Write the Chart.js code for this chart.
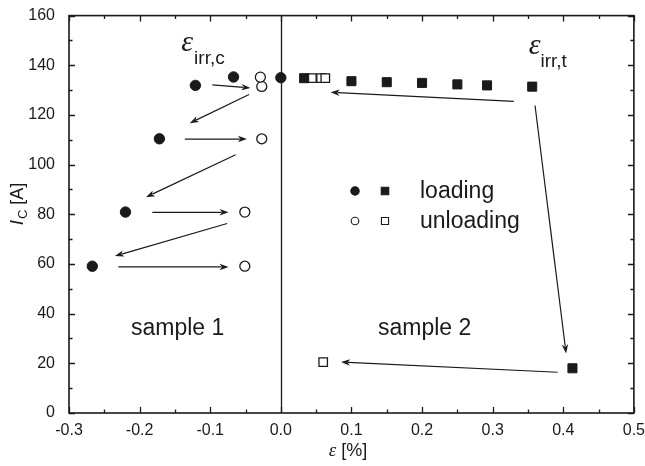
<!DOCTYPE html>
<html><head><meta charset="utf-8">
<script src="https://cdn.jsdelivr.net/npm/chart.js@4/dist/chart.umd.min.js"></script>
<style>html,body{margin:0;padding:0;background:#fff}#wrap{width:645px;height:466px;position:relative}</style>
</head><body><div id="wrap"><canvas id="c"></canvas></div>
<script>
// ---- data ----
const s1LoadX = [-0.267, -0.22, -0.172, -0.121, -0.067, 0.0];
const s1LoadY = [59.1, 80.9, 110.4, 131.9, 135.3, 135.0];
const s1UnloadX = [-0.051, -0.051, -0.027, -0.027, -0.029];
const s1UnloadY = [59.1, 80.9, 110.4, 131.5, 135.2];
const s2LoadX = [0.033, 0.1, 0.15, 0.2, 0.25, 0.292, 0.356, 0.413];
const s2LoadY = [134.8, 133.6, 133.2, 132.9, 132.3, 131.9, 131.4, 18.0];
const s2UnloadX = [0.044, 0.057, 0.063, 0.06];
const s2UnloadY = [134.8, 134.8, 134.8, 20.5];

const xTicks = [-0.3, -0.2, -0.1, 0.0, 0.1, 0.2, 0.3, 0.4, 0.5];
const yTicks = [0, 20, 40, 60, 80, 100, 120, 140, 160];
const xTickLabels = ['-0.3', '-0.2', '-0.1', '0.0', '0.1', '0.2', '0.3', '0.4', '0.5'];
const yTickLabels = ['0', '20', '40', '60', '80', '100', '120', '140', '160'];

// arrows (data coordinates: start -> end)
const arrowX0 = [-0.097, -0.045, -0.136, -0.064, -0.182, -0.076, -0.230, 0.330, 0.360, 0.392];
const arrowY0 = [132.1, 128.2, 110.3, 104.0, 80.8, 76.3, 58.8, 125.5, 123.8, 16.4];
const arrowX1 = [-0.043, -0.129, -0.048, -0.191, -0.074, -0.235, -0.074, 0.0705, 0.404, 0.0853];
const arrowY1 = [130.9, 116.7, 110.3, 86.9, 80.8, 63.2, 58.8, 129.1, 24.0, 20.5];

const legendLabels = ['loading', 'unloading'];
const sampleLabels = ['sample 1', 'sample 2'];

// ---- helpers ----
const pts = (xs, ys) => xs.map((x, i) => ({x: x, y: ys[i]}));
const SANS = '"Liberation Sans", Arial, sans-serif';
const SERIF = '"Liberation Serif", "Times New Roman", serif';
const INK = '#1a1a1a';

function drawArrow(ctx, x0, y0, x1, y1) {
  const ang = Math.atan2(y1 - y0, x1 - x0);
  const hl = 9, hw = 3.2;
  const bx = x1 - hl * Math.cos(ang), by = y1 - hl * Math.sin(ang);
  ctx.beginPath();
  ctx.moveTo(x0, y0);
  ctx.lineTo(bx + 2 * Math.cos(ang), by + 2 * Math.sin(ang));
  ctx.stroke();
  ctx.beginPath();
  ctx.moveTo(x1, y1);
  ctx.lineTo(bx - hw * Math.sin(ang), by + hw * Math.cos(ang));
  ctx.lineTo(bx + 2.5 * Math.cos(ang), by + 2.5 * Math.sin(ang));
  ctx.lineTo(bx + hw * Math.sin(ang), by - hw * Math.cos(ang));
  ctx.closePath();
  ctx.fill();
}

function drawRich(ctx, parts, x, y, align) {
  let w = 0;
  parts.forEach(p => { ctx.font = p.font; p.w = ctx.measureText(p.t).width; w += p.w + (p.gap || 0); });
  let cx = align === 'center' ? x - w / 2 : x;
  ctx.textAlign = 'left';
  ctx.textBaseline = 'alphabetic';
  parts.forEach(p => {
    ctx.font = p.font;
    cx += (p.gap || 0);
    ctx.fillText(p.t, cx, y + (p.dy || 0));
    cx += p.w;
  });
}

const decor = {
  id: 'decor',
  beforeDatasetsDraw(chart) {
    const {ctx, chartArea: a, scales: {x, y}} = chart;
    ctx.save();
    ctx.strokeStyle = INK; ctx.lineWidth = 1.3;
    const x0 = Math.round(x.getPixelForValue(0)) + 0.5;
    ctx.beginPath(); ctx.moveTo(x0, a.top); ctx.lineTo(x0, a.bottom); ctx.stroke();
    ctx.restore();
  },
  afterDatasetsDraw(chart) {
    const {ctx, chartArea: a, scales: {x, y}} = chart;
    ctx.save();
    // frame
    ctx.strokeStyle = INK; ctx.lineWidth = 1.6;
    ctx.strokeRect(a.left, a.top, a.right - a.left, a.bottom - a.top);
    // ticks (inward, mirrored)
    ctx.lineWidth = 1.3;
    ctx.beginPath();
    for (let i = 0; i < xTicks.length; i++) {
      const v = xTicks[i];
      const px = Math.round(x.getPixelForValue(v)) + 0.5;
      ctx.moveTo(px, a.bottom); ctx.lineTo(px, a.bottom - 6);
      ctx.moveTo(px, a.top); ctx.lineTo(px, a.top + 6);
      if (i < xTicks.length - 1) {
        const m = Math.round(x.getPixelForValue((v + xTicks[i + 1]) / 2)) + 0.5;
        ctx.moveTo(m, a.bottom); ctx.lineTo(m, a.bottom - 3.5);
        ctx.moveTo(m, a.top); ctx.lineTo(m, a.top + 3.5);
      }
    }
    for (let i = 0; i < yTicks.length; i++) {
      const v = yTicks[i];
      const py = Math.round(y.getPixelForValue(v)) + 0.5;
      ctx.moveTo(a.left, py); ctx.lineTo(a.left + 6, py);
      ctx.moveTo(a.right, py); ctx.lineTo(a.right - 6, py);
      if (i < yTicks.length - 1) {
        const m = Math.round(y.getPixelForValue((v + yTicks[i + 1]) / 2)) + 0.5;
        ctx.moveTo(a.left, m); ctx.lineTo(a.left + 3.5, m);
        ctx.moveTo(a.right, m); ctx.lineTo(a.right - 3.5, m);
      }
    }
    ctx.stroke();

    // arrows
    ctx.strokeStyle = INK; ctx.fillStyle = INK; ctx.lineWidth = 1.2;
    for (let i = 0; i < arrowX0.length; i++) {
      drawArrow(ctx, x.getPixelForValue(arrowX0[i]), y.getPixelForValue(arrowY0[i]),
                     x.getPixelForValue(arrowX1[i]), y.getPixelForValue(arrowY1[i]));
    }

    // epsilon labels
    ctx.fillStyle = INK;
    drawRich(ctx, [
      {t: 'ε', font: 'italic 30px ' + SERIF},
      {t: 'irr,c', font: '19px ' + SANS, dy: 13, gap: 1}
    ], x.getPixelForValue(-0.141), y.getPixelForValue(145.9), 'left');
    drawRich(ctx, [
      {t: 'ε', font: 'italic 30px ' + SERIF},
      {t: 'irr,t', font: '19px ' + SANS, dy: 13, gap: 0}
    ], x.getPixelForValue(0.351), y.getPixelForValue(144.7), 'left');

    // sample labels
    ctx.font = '23px ' + SANS; ctx.textAlign = 'left'; ctx.textBaseline = 'alphabetic';
    ctx.fillText(sampleLabels[0], 131, 335);
    ctx.fillText(sampleLabels[1], 378, 335);

    // legend
    const H = Chart.helpers;
    const lx1 = 355, lx2 = 385, ly1 = 191, ly2 = 221;
    ctx.lineWidth = 1.1; ctx.strokeStyle = INK;
    ctx.fillStyle = INK;
    H.drawPoint(ctx, {pointStyle: 'circle', radius: 4.2, borderWidth: 1}, lx1, ly1);
    H.drawPoint(ctx, {pointStyle: 'rect', radius: 5.3, borderWidth: 1}, lx2, ly1);
    ctx.fillStyle = '#fff';
    H.drawPoint(ctx, {pointStyle: 'circle', radius: 3.8, borderWidth: 1.1}, lx1, ly2);
    H.drawPoint(ctx, {pointStyle: 'rect', radius: 5.0, borderWidth: 1.1}, lx2, ly2);
    ctx.fillStyle = INK;
    ctx.font = '23px ' + SANS; ctx.textAlign = 'left'; ctx.textBaseline = 'alphabetic';
    ctx.fillText(legendLabels[0], 420, 198);
    ctx.fillText(legendLabels[1], 420, 228);

    // axis titles
    drawRich(ctx, [
      {t: 'ε', font: 'italic 19px ' + SERIF},
      {t: ' [%]', font: '18px ' + SANS}
    ], 348, 456, 'center');
    ctx.translate(23, 204);
    ctx.rotate(-Math.PI / 2);
    drawRich(ctx, [
      {t: 'I', font: 'italic 19px ' + SANS},
      {t: 'C', font: '13px ' + SANS, dy: 4, gap: 1},
      {t: ' [A]', font: '18px ' + SANS}
    ], 0, 0, 'center');
    ctx.restore();
  }
};

new Chart(document.getElementById('c'), {
  type: 'scatter',
  data: {
    datasets: [
      {label: 'sample 1 loading', data: pts(s1LoadX, s1LoadY), pointStyle: 'circle', pointRadius: 5.2,
       backgroundColor: INK, borderColor: INK, borderWidth: 1},
      {label: 'sample 1 unloading', data: pts(s1UnloadX, s1UnloadY), pointStyle: 'circle', pointRadius: 5,
       backgroundColor: '#fff', borderColor: INK, borderWidth: 1.3},
      {label: 'sample 2 loading', data: pts(s2LoadX, s2LoadY), pointStyle: 'rect', pointRadius: 6.4,
       backgroundColor: INK, borderColor: INK, borderWidth: 1},
      {label: 'sample 2 unloading', data: pts(s2UnloadX, s2UnloadY), pointStyle: 'rect', pointRadius: 6,
       backgroundColor: '#fff', borderColor: INK, borderWidth: 1.3}
    ]
  },
  options: {
    responsive: true, maintainAspectRatio: false, animation: false,
    layout: {padding: {top: 15, right: 5, left: 0, bottom: 0}},
    plugins: {legend: {display: false}, tooltip: {enabled: false}},
    elements: {point: {hoverRadius: 5}},
    scales: {
      x: {
        type: 'linear', min: -0.3, max: 0.5,
        afterBuildTicks: s => { s.ticks = xTicks.map(v => ({value: v})); },
        afterFit: s => { s.height = 53; },
        grid: {display: false}, border: {display: false},
        ticks: {
          callback: (v) => { const i = xTicks.findIndex(t => Math.abs(t - v) < 1e-9); return i >= 0 ? xTickLabels[i] : ''; },
          font: {family: SANS, size: 16}, color: INK, padding: 0, maxRotation: 0, autoSkip: false
        }
      },
      y: {
        type: 'linear', min: 0, max: 160,
        afterBuildTicks: s => { s.ticks = yTicks.map(v => ({value: v})); },
        afterFit: s => { s.width = 69; },
        grid: {display: false}, border: {display: false},
        ticks: {
          callback: (v) => { const i = yTicks.indexOf(v); return i >= 0 ? yTickLabels[i] : ''; },
          font: {family: SANS, size: 16}, color: INK, padding: 6, autoSkip: false
        }
      }
    }
  },
  plugins: [decor]
});
</script>
</body></html>
